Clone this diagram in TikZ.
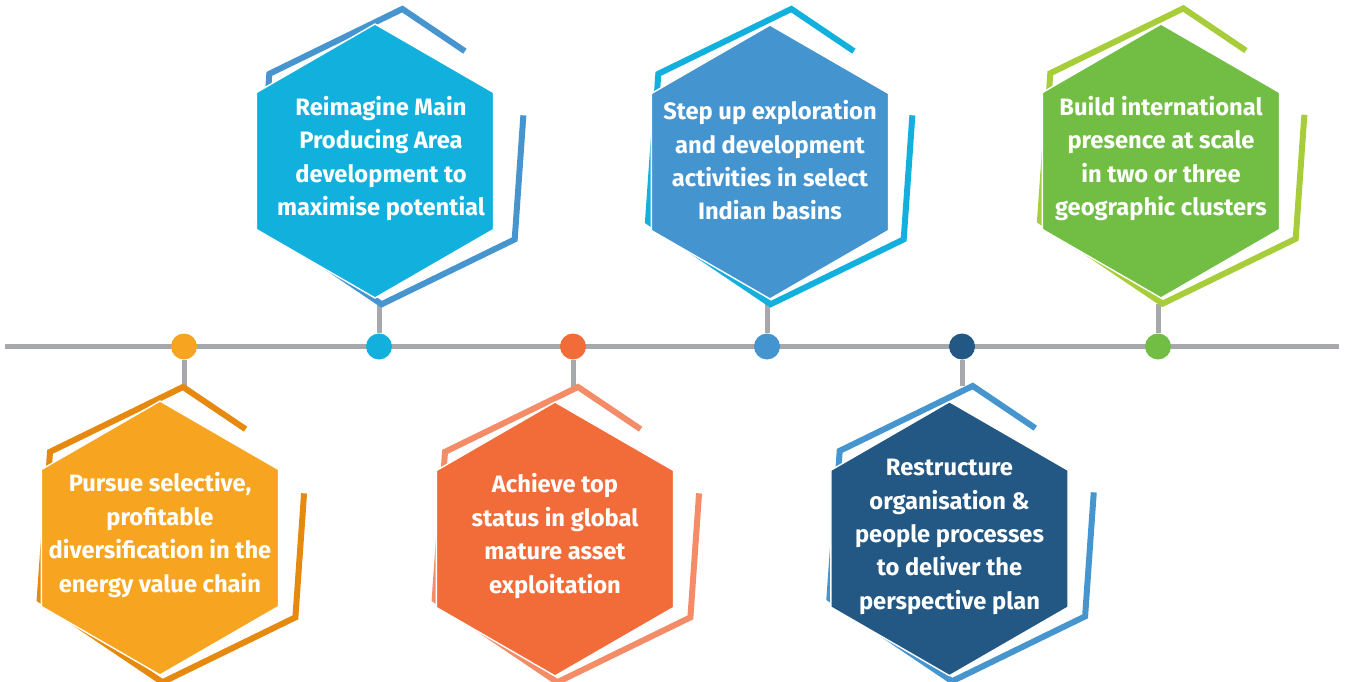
\documentclass[tikz,border=0pt]{standalone}
\usepackage{fontspec}
\setmainfont{Fira Sans}
\definecolor{tlgrey}{HTML}{A7A8AB}
\definecolor{orgfill}{HTML}{F7A520}
\definecolor{orgring}{HTML}{E6890F}
\definecolor{cyafill}{HTML}{12B1DD}
\definecolor{cyaring}{HTML}{4695CF}
\definecolor{redfill}{HTML}{F26C3A}
\definecolor{redring}{HTML}{F58C68}
\definecolor{bluefill}{HTML}{4494D0}
\definecolor{bluering}{HTML}{12B1DD}
\definecolor{navyfill}{HTML}{225883}
\definecolor{navyring}{HTML}{4695CF}
\definecolor{grnfill}{HTML}{72BE45}
\definecolor{grnring}{HTML}{A7CE3A}
\usetikzlibrary{calc, shapes.geometric, backgrounds}

% open ring around a hexagon: name, centre, colour
\newcommand{\hexring}[3]{%
  \path (#2) +(86:148) coordinate (#1t) +(146:148) coordinate (#1ul)
             +(206:148) coordinate (#1ll) +(266:148) coordinate (#1b)
             +(326:148) coordinate (#1lr) +(26:148) coordinate (#1ur);
  \draw[ring, #3] ($(#1t)!0.51!(#1ur)$) -- (#1t) -- (#1ul) -- (#1ll)
    -- (#1b) -- (#1lr) -- ($(#1lr)!0.84!(#1ur)$);
}

\begin{document}
\begin{tikzpicture}[x=0.02cm, y=0.02cm,
  hexa/.style={regular polygon, regular polygon sides=6, shape border rotate=30,
               minimum size=5.48cm, inner sep=0pt, outer sep=0pt,
               draw=white, line width=0.8pt},
  ring/.style={line width=0.12cm, line join=miter},
  stem/.style={line width=0.1cm, tlgrey},
  dot/.style={circle, minimum size=0.52cm, inner sep=0pt},
  txt/.style={align=center, text=white, font=\fontsize{13.5}{19}\selectfont\bfseries},
]
\useasboundingbox (0,0) rectangle (1345,681);

% Milestones on the timeline
\node[dot, fill=orgfill]  (dA) at (184,334.5) {};
\node[dot, fill=cyafill]  (dB) at (379,334.5) {};
\node[dot, fill=redfill]  (dC) at (573,334.5) {};
\node[dot, fill=bluefill] (dD) at (767,334.5) {};
\node[dot, fill=navyfill] (dE) at (962,334.5) {};
\node[dot, fill=grnfill]  (dF) at (1158,334.5) {};

% Lower row
\hexring{rA}{172.7,146.4}{orgring}
\node[hexa, fill=orgfill] (hA) at (160,143) {};
\node[txt] (tA) at (160,146) {Pursue selective,\\profitable\\diversification in the\\energy value chain};

\hexring{rC}{567.7,146.4}{redring}
\node[hexa, fill=redfill] (hC) at (555,142) {};
\node[txt] (tC) at (555,145) {Achieve top\\status in global\\mature asset\\exploitation};

\hexring{rE}{962.4,147.4}{navyring}
\node[hexa, fill=navyfill] (hE) at (949.5,142.3) {};
\node[txt] (tE) at (949.5,144) {Restructure\\organisation \&\\people processes\\to deliver the\\perspective plan};

% Upper row
\hexring{rB}{392,524.4}{cyaring}
\node[hexa, fill=cyafill] (hB) at (375,520) {};
\node[txt] (tB) at (381,522.5) {Reimagine Main\\Producing Area\\development to\\maximise potential};

\hexring{rD}{781,524.4}{bluering}
\node[hexa, fill=bluefill] (hD) at (770,519) {};
\node[txt] (tD) at (770,520.5) {Step up exploration\\and development\\activities in select\\Indian basins};

\hexring{rF}{1173,525}{grnring}
\node[hexa, fill=grnfill] (hF) at (1161,520) {};
\node[txt] (tF) at (1161,522.5) {Build international\\presence at scale\\in two or three\\geographic clusters};

% Timeline and stems
\begin{scope}[on background layer]
\coordinate (tl0) at (5,334.5);
\coordinate (tl1) at (1339,334.5);
\draw[line width=0.1cm, tlgrey] (tl0) -- (tl1);
\draw[stem] (dA) -- (dA |- rAt);
\draw[stem] (dC) -- (dC |- rCt);
\draw[stem] (dE) -- (dE |- rEt);
\draw[stem] (dB) -- (dB |- rBb);
\draw[stem] (dD) -- (dD |- rDb);
\draw[stem] (dF) -- (dF |- rFb);
\end{scope}

\end{tikzpicture}
\end{document}
